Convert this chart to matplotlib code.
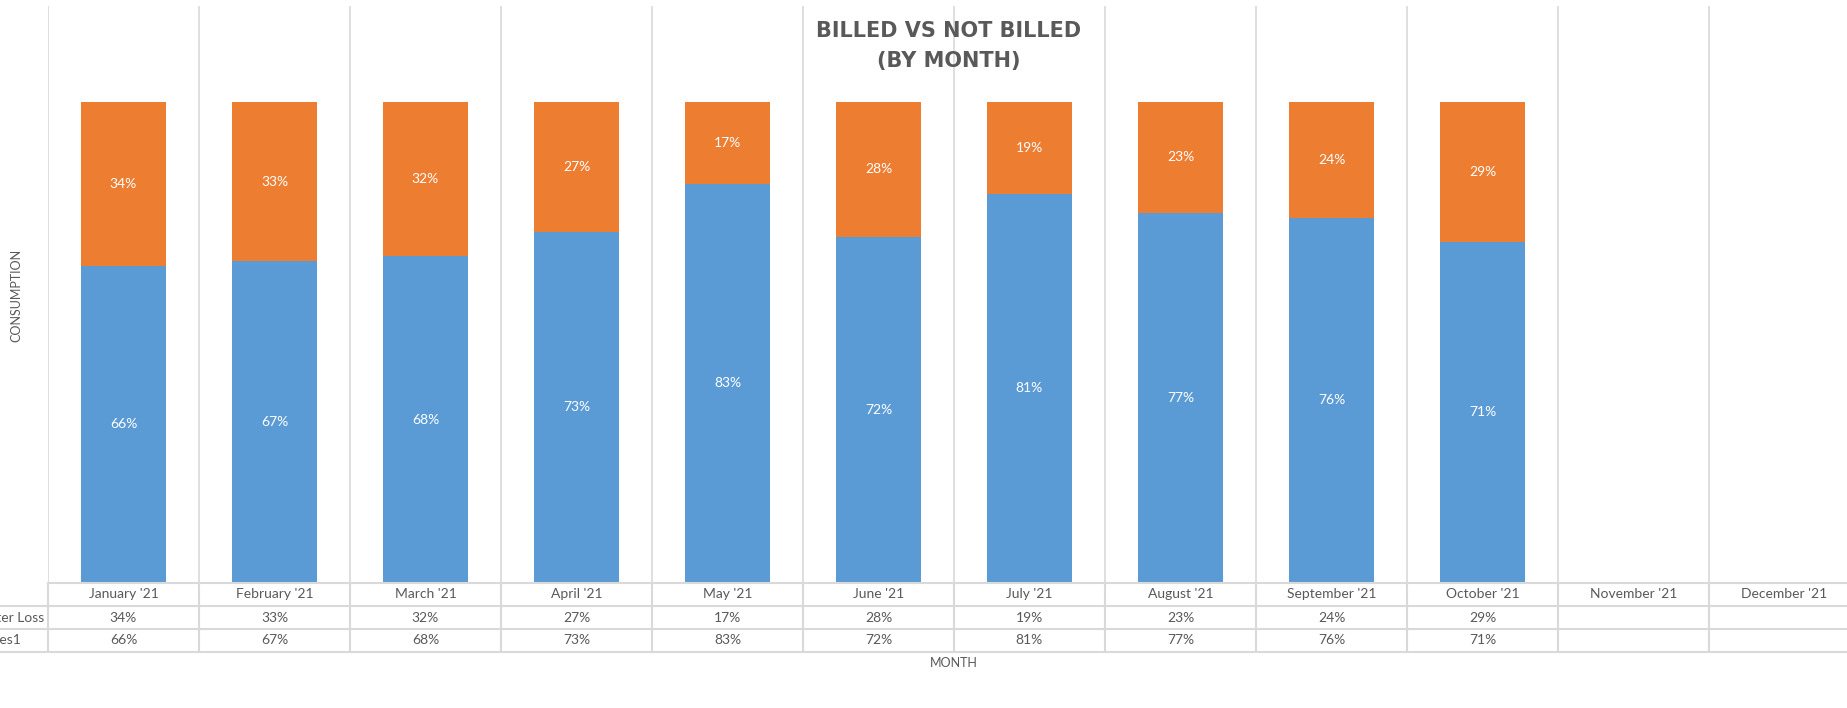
import matplotlib.pyplot as plt
import matplotlib.transforms as mtransforms
import numpy as np

# chart data
months = [
    "January '21", "February '21", "March '21", "April '21", "May '21", "June '21",
    "July '21", "August '21", "September '21", "October '21", "November '21", "December '21",
]
water_loss = [34, 33, 32, 27, 17, 28, 19, 23, 24, 29]
series1 = [66, 67, 68, 73, 83, 72, 81, 77, 76, 71]
row_names = ["Water Loss", "Series1"]

BLUE = "#5B9BD5"
ORANGE = "#ED7D31"
GREY_TEXT = "#595959"
GRID = "#D9D9D9"

plt.rcParams["font.family"] = ["Lato", "DejaVu Sans"]

W, H = 1847, 708
fig = plt.figure(figsize=(W / 100, H / 100), dpi=100)

# plot area (in pixels): x 48..1860, y 6..583 ; table y 583..652
left, right = 48, 1860
top, bottom, table_bottom = 6, 583, 652
ax = fig.add_axes([left / W, (H - bottom) / H, (right - left) / W, (bottom - top) / H])
tab = fig.add_axes([left / W, (H - table_bottom) / H, (right - left) / W, (table_bottom - bottom) / H])

n = len(months)
x = np.arange(len(series1))
ax.set_xlim(-0.5, n - 0.5)
ax.set_ylim(0, 1.2)
ax.axis("off")

# vertical gridlines at category boundaries
for b in np.arange(n + 1) - 0.5:
    ax.axvline(b, color=GRID, lw=1.2, zorder=0)

total = np.array(series1) + np.array(water_loss)
s1 = np.array(series1) / total
wl = np.array(water_loss) / total
bw = 0.56
ax.bar(x, s1, width=bw, color=BLUE, zorder=2)
ax.bar(x, wl, width=bw, bottom=s1, color=ORANGE, zorder=2)

for i in range(len(x)):
    ax.text(x[i], s1[i] / 2, f"{series1[i]}%", ha="center", va="center",
            color="white", fontsize=10, zorder=3)
    ax.text(x[i], s1[i] + wl[i] / 2, f"{water_loss[i]}%", ha="center", va="center",
            color="white", fontsize=10, zorder=3)

# title, two lines
title_font = dict(ha="center", va="center", fontsize=15, fontweight="bold",
                  color=GREY_TEXT, family=["DejaVu Sans"])
fig.text(949 / W, (H - 31) / H, "BILLED VS NOT BILLED", **title_font)
fig.text(949 / W, (H - 61) / H, "(BY MONTH)", **title_font)

# data table
tab.set_xlim(-0.5, n - 0.5)
tab.set_ylim(0, 3)
tab.axis("off")
for yy in [0, 1, 2, 3]:
    x0 = -0.5 if yy == 3 else -0.9
    tab.plot([x0, n - 0.5], [yy, yy], color=GRID, lw=1.5, clip_on=False)
for b in np.arange(n + 1) - 0.5:
    tab.plot([b, b], [0, 3], color=GRID, lw=1.5, clip_on=False)

for i, m in enumerate(months):
    tab.text(i, 2.5, m, ha="center", va="center", fontsize=10, color=GREY_TEXT)
for i in range(len(x)):
    tab.text(i, 1.5, f"{water_loss[i]}%", ha="center", va="center", fontsize=10, color=GREY_TEXT)
    tab.text(i, 0.5, f"{series1[i]}%", ha="center", va="center", fontsize=10, color=GREY_TEXT)

# row headers, partly cut off at the left edge as in the original
px = mtransforms.blended_transform_factory(fig.dpi_scale_trans, tab.transData)
tab.text(44 / 100, 1.5, row_names[0], transform=px, ha="right", va="center",
         fontsize=10, color=GREY_TEXT, clip_on=False)
tab.text(21 / 100, 0.5, row_names[1], transform=px, ha="right", va="center",
         fontsize=10, color=GREY_TEXT, clip_on=False)

# axis titles
fig.text(954 / W, (H - 663) / H, "MONTH", ha="center", va="center", fontsize=9, color=GREY_TEXT)
fig.text(16 / W, (H - 295) / H, "CONSUMPTION", ha="center", va="center", rotation=90,
         fontsize=9, color=GREY_TEXT)

fig.savefig("out.png", dpi=100)
